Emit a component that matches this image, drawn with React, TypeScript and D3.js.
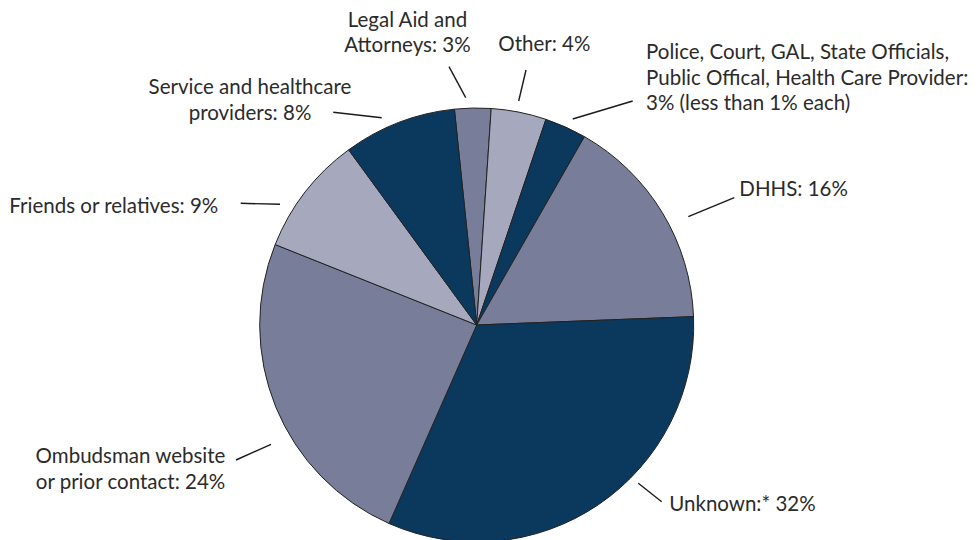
import React, { useEffect, useRef } from 'react';
import { select, pie, arc, scaleOrdinal } from 'd3';

// Slices clockwise, starting just left of 12 o'clock
const categories = [
  'Legal Aid and Attorneys',
  'Other',
  'Police, Court, GAL, State Officials, Public Offical, Health Care Provider',
  'DHHS',
  'Unknown',
  'Ombudsman website or prior contact',
  'Friends or relatives',
  'Service and healthcare providers',
];
const shares = [2.7, 4.1, 3.1, 16.1, 32.2, 24.4, 8.9, 8.4];
const labelText: string[][] = [
  ['Legal Aid and', 'Attorneys: 3%'],
  ['Other: 4%'],
  ['Police, Court, GAL, State Officials,', 'Public Offical, Health Care Provider:', '3% (less than 1% each)'],
  ['DHHS: 16%'],
  ['Unknown:* 32%'],
  ['Ombudsman website', 'or prior contact: 24%'],
  ['Friends or relatives: 9%'],
  ['Service and healthcare', 'providers: 8%'],
];

// layout / style
const W = 980;
const H = 540;
const CX = 476.7;
const CY = 325;
const R = 217;
const START = (-5.9 * Math.PI) / 180;
const DARK = '#0b395d';
const MID = '#787e9a';
const LIGHT = '#a6a9bd';
const sliceColors = [MID, LIGHT, DARK, MID, DARK, MID, LIGHT, DARK];
const FONT = 'Lato, "Open Sans", sans-serif';
const FONT_SIZE = 20.5;
const LINE_H = 25.5;

// text anchor point (first baseline) and leader line per slice
const labelLayout = [
  { x: 407.5, y: 26.5, anchor: 'middle', leader: [449, 66.7, 465.7, 97.7] },
  { x: 498.3, y: 51, anchor: 'start', leader: [526, 70, 518.7, 101] },
  { x: 646, y: 59, anchor: 'start', leader: [632.7, 101, 572.7, 119] },
  { x: 739.3, y: 195.7, anchor: 'start', leader: [734.3, 197.7, 688.3, 216.7] },
  { x: 669.3, y: 510.7, anchor: 'start', leader: [661.7, 501.7, 638.3, 483.3] },
  { x: 130.5, y: 463.3, anchor: 'middle', leader: [236, 460, 271, 444.3] },
  { x: 9.3, y: 213.3, anchor: 'start', leader: [240.7, 203.3, 280, 204.3] },
  { x: 250, y: 94, anchor: 'middle', leader: [333.3, 112.3, 381.7, 117.7] },
];

const App: React.FC = () => {
  const svgRef = useRef<SVGSVGElement>(null);

  useEffect(() => {
    if (!svgRef.current) return;

    const data = categories.map((name, i) => ({ name, value: shares[i], lines: labelText[i] }));

    const svg = select(svgRef.current)
      .attr('width', W)
      .attr('height', H)
      .html('');

    const color = scaleOrdinal<string, string>().domain(categories).range(sliceColors);

    const pieGen = pie<typeof data[0]>()
      .value(d => d.value)
      .sort(null)
      .startAngle(START)
      .endAngle(START + Math.PI * 2);

    const arcGen = arc<ReturnType<typeof pieGen>[0]>()
      .innerRadius(0)
      .outerRadius(R);

    const g = svg.append('g').attr('transform', `translate(${CX}, ${CY})`);

    g.selectAll('path')
      .data(pieGen(data))
      .enter()
      .append('path')
      .attr('d', arcGen)
      .attr('fill', d => color(d.data.name))
      .attr('stroke', '#222')
      .attr('stroke-width', 1)
      .attr('stroke-linejoin', 'round');

    // leader lines
    svg.append('g')
      .selectAll('line')
      .data(labelLayout)
      .enter()
      .append('line')
      .attr('x1', d => d.leader[0])
      .attr('y1', d => d.leader[1])
      .attr('x2', d => d.leader[2])
      .attr('y2', d => d.leader[3])
      .attr('stroke', '#1a1a1a')
      .attr('stroke-width', 1.4);

    // labels
    const labels = svg.append('g')
      .attr('font-family', FONT)
      .attr('font-size', FONT_SIZE)
      .attr('fill', '#2b2b2b');

    data.forEach((d, i) => {
      const pos = labelLayout[i];
      const t = labels.append('text')
        .attr('x', pos.x)
        .attr('y', pos.y)
        .attr('text-anchor', pos.anchor);
      d.lines.forEach((line, j) => {
        t.append('tspan')
          .attr('x', pos.x)
          .attr('y', pos.y + j * LINE_H)
          .text(line);
      });
    });
  }, []);

  return (
    <div style={{ position: 'absolute', left: 0, top: 0, width: W, height: H, background: '#fff' }}>
      <svg ref={svgRef}></svg>
    </div>
  );
};

export default App;
